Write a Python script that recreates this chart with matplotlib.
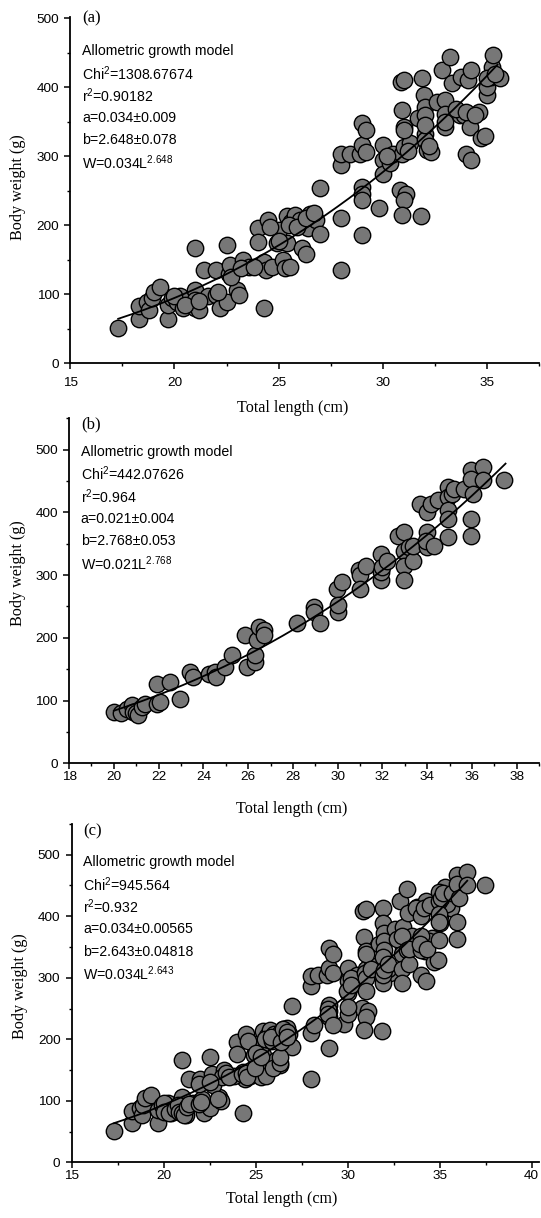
import numpy as np
import matplotlib
matplotlib.use("Agg")
import matplotlib.pyplot as plt
from matplotlib.ticker import MultipleLocator

plt.rcParams["font.family"] = ["Liberation Sans", "DejaVu Sans"]
plt.rcParams["mathtext.fontset"] = "custom"
plt.rcParams["mathtext.rm"] = "Liberation Sans"
plt.rcParams["mathtext.it"] = "Liberation Sans:italic"
plt.rcParams["mathtext.bf"] = "Liberation Sans:bold"

# panel (a) sample
a_length = [17.3, 18.3, 18.3, 18.7, 18.8, 18.9, 19.0, 19.3, 19.7, 19.7,
            19.9, 20.1, 20.4, 20.25, 21.0, 21.0, 21.0, 21.0, 21.2, 21.4,
            21.6, 22.0, 22.0, 22.2, 22.5, 22.5, 22.6, 22.65, 23.0, 23.1,
            23.3, 23.6, 24.0, 24.0, 24.3, 24.3, 24.4, 24.5, 24.7, 24.9,
            25.0, 25.2, 25.3, 25.4, 25.4, 25.6, 25.55, 25.8, 26.0, 26.1,
            26.3, 26.4, 26.5, 26.6, 26.8, 27.0, 27.0, 28.0, 28.0, 28.0,
            28.0, 28.4, 28.9, 29.0, 29.0, 29.2, 29.2, 29.0, 29.0, 29.0,
            29.0, 29.8, 30.0, 30.0, 30.0, 30.35, 30.5, 30.85, 30.9, 31.0,
            30.9, 31.0, 31.0, 30.8, 31.1, 31.0, 30.9, 31.3, 31.7, 31.85,
            31.9, 31.95, 32.0, 32.0, 32.0, 32.0, 32.1, 32.3, 32.6, 32.85,
            33.0, 33.0, 33.0, 33.2, 33.3, 33.7, 33.75, 33.9, 34.0, 34.1,
            34.25, 34.2, 34.25, 34.6, 34.7, 34.9, 35.0, 35.0, 35.2, 35.25,
            35.3, 35.6, 35.0,
            20.0, 20.5, 21.2, 22.1, 22.7, 23.2, 23.8, 24.6, 25.0, 25.5,
            25.9, 26.3, 26.7, 30.2, 31.0, 31.2, 32.0, 32.2, 33.0, 33.5,
            34.0, 34.4, 35.4]
a_weight = [51, 64, 83, 89, 77, 94, 104, 110, 64, 85,
            94, 89, 80, 97, 167, 106, 92, 80, 77, 135,
            97, 99, 135, 80, 171, 89, 130, 143, 106, 99,
            150, 140, 196, 176, 80, 147, 135, 208, 140, 174,
            193, 150, 138, 174, 213, 205, 140, 215, 208, 167,
            159, 196, 217, 213, 208, 254, 188, 135, 210, 287,
            303, 304, 304, 316, 348, 338, 307, 256, 246, 237,
            186, 225, 316, 295, 275, 290, 304, 408, 304, 411,
            367, 343, 314, 251, 246, 237, 215, 319, 355, 213,
            413, 389, 372, 360, 333, 324, 309, 307, 379, 425,
            382, 362, 343, 444, 406, 360, 415, 360, 304, 411,
            425, 343, 295, 365, 326, 329, 389, 401, 415, 430,
            447, 413, 413,
            97, 85, 90, 103, 125, 138, 140, 198, 178, 200,
            198, 210, 218, 300, 338, 308, 345, 315, 350, 368,
            365, 360, 420]

# panel (b) sample
b_length = [20.0, 20.3, 20.6, 20.8, 20.85, 21.0, 21.1, 21.25, 21.4, 21.95,
            21.95, 22.05, 22.5, 22.95, 23.4, 23.55, 24.25, 24.5, 24.55, 24.95,
            25.3, 25.85, 25.95, 26.3, 26.3, 26.4, 26.5, 26.7, 26.7, 28.2,
            28.95, 28.95, 29.2, 29.95, 30.0, 30.0, 30.2, 30.95, 31.0, 31.0,
            31.25, 31.95, 31.95, 31.95, 32.0, 32.2, 32.7, 32.95, 32.95, 32.95,
            32.95, 33.2, 33.35, 33.35, 33.7, 34.0, 34.0, 34.0, 33.95, 34.15,
            34.3, 34.5, 34.95, 34.95, 34.95, 34.95, 34.95, 35.1, 35.2, 35.65,
            35.95, 35.95, 36.05, 35.95, 35.95, 36.5, 36.5, 37.45]
b_weight = [82, 80, 87, 93, 82, 80, 77, 90, 95, 127,
            95, 98, 130, 103, 146, 138, 143, 146, 138, 154,
            172, 204, 154, 162, 172, 196, 217, 212, 204, 223,
            249, 241, 223, 278, 241, 252, 289, 308, 300, 278,
            315, 334, 292, 305, 313, 323, 363, 368, 339, 315,
            292, 345, 323, 347, 414, 400, 368, 345, 355, 414,
            347, 419, 440, 424, 403, 390, 361, 429, 437, 437,
            467, 453, 429, 390, 363, 472, 451, 451]

# panel (c) pools both samples
c_length = a_length + b_length
c_weight = a_weight + b_weight

# allometric fit W = a * L^b, and the length span it is drawn over
fit_a = (0.034, 2.648, 17.3, 35.5)
fit_b = (0.021, 2.768, 20.0, 37.5)
fit_c = (0.034, 2.643, 17.3, 36.5)

text_a = ["Allometric growth model", "Chi$^{2}$=1308.67674", "r$^{2}$=0.90182",
          "a=0.034\u00b10.009", "b=2.648\u00b10.078", "W=0.034L$^{2.648}$"]
text_b = ["Allometric growth model", "Chi$^{2}$=442.07626", "r$^{2}$=0.964",
          "a=0.021\u00b10.004", "b=2.768\u00b10.053", "W=0.021L$^{2.768}$"]
text_c = ["Allometric growth model", "Chi$^{2}$=945.564", "r$^{2}$=0.932",
          "a=0.034\u00b10.00565", "b=2.643\u00b10.04818", "W=0.034L$^{2.643}$"]

fig = plt.figure(figsize=(5.41, 12.18), dpi=100)


def panel(rect, length, weight, fit, lines, tag, xlim, ytop, xmajor, xminor,
          tag_y, text_y, xlabel_pos, ylabel_pos, tick_pad):
    ax = fig.add_axes(rect)
    ax.patch.set_visible(False)
    ax.scatter(length, weight, s=140, c="#777777", edgecolors="black",
               linewidths=1.0, zorder=2)
    coef, expo, lo, hi = fit
    xs = np.linspace(lo, hi, 200)
    ax.plot(xs, coef * xs ** expo, color="black", lw=1.3, zorder=3)

    ax.set_xlim(*xlim)
    ax.set_ylim(0, ytop)
    ax.xaxis.set_major_locator(MultipleLocator(xmajor))
    ax.xaxis.set_minor_locator(MultipleLocator(xminor))
    ax.yaxis.set_major_locator(MultipleLocator(100))
    ax.yaxis.set_minor_locator(MultipleLocator(50))
    for side in ["top", "right"]:
        ax.spines[side].set_visible(False)
    for side in ["left", "bottom"]:
        ax.spines[side].set_linewidth(1.3)
    ax.tick_params(which="major", direction="out", length=4.5, width=1.1,
                   labelsize=9.7)
    ax.tick_params(which="minor", direction="out", length=2.5, width=1.0)
    ax.tick_params(axis="x", which="major", pad=tick_pad)

    ax.set_xlabel("Total length (cm)", family="Liberation Serif", fontsize=11.6)
    ax.set_ylabel("Body weight (g)", family="Liberation Serif", fontsize=11.6)
    ax.xaxis.set_label_coords(*xlabel_pos)
    ax.yaxis.set_label_coords(*ylabel_pos)

    ax.text(0.025, tag_y, tag, transform=ax.transAxes, family="Liberation Serif",
            fontsize=12, va="center", ha="left")
    for i, line in enumerate(lines):
        ax.annotate(line, xy=(0.025, text_y), xycoords="axes fraction",
                    xytext=(0, -16.1 * i), textcoords="offset points",
                    fontsize=10.2, va="center", ha="left")
    return ax


panel([0.1298, 0.7017, 0.8669, 0.2843], a_length, a_weight, fit_a, text_a, "(a)",
      (15, 37.5), 502, 5, 2.5, 0.996, 0.902, (0.474, -0.106), (-0.094, 0.51), 5)
panel([0.1277, 0.3733, 0.8688, 0.2833], b_length, b_weight, fit_b, text_b, "(b)",
      (18, 39), 550, 2, 1, 0.981, 0.903, (0.474, -0.109), (-0.092, 0.55), 1)
panel([0.1323, 0.0457, 0.864, 0.2778], c_length, c_weight, fit_c, text_c, "(c)",
      (15, 40.4), 550, 5, 2.5, 0.977, 0.887, (0.45, -0.085), (-0.094, 0.52), 1)

fig.savefig("out.png", dpi=100)
